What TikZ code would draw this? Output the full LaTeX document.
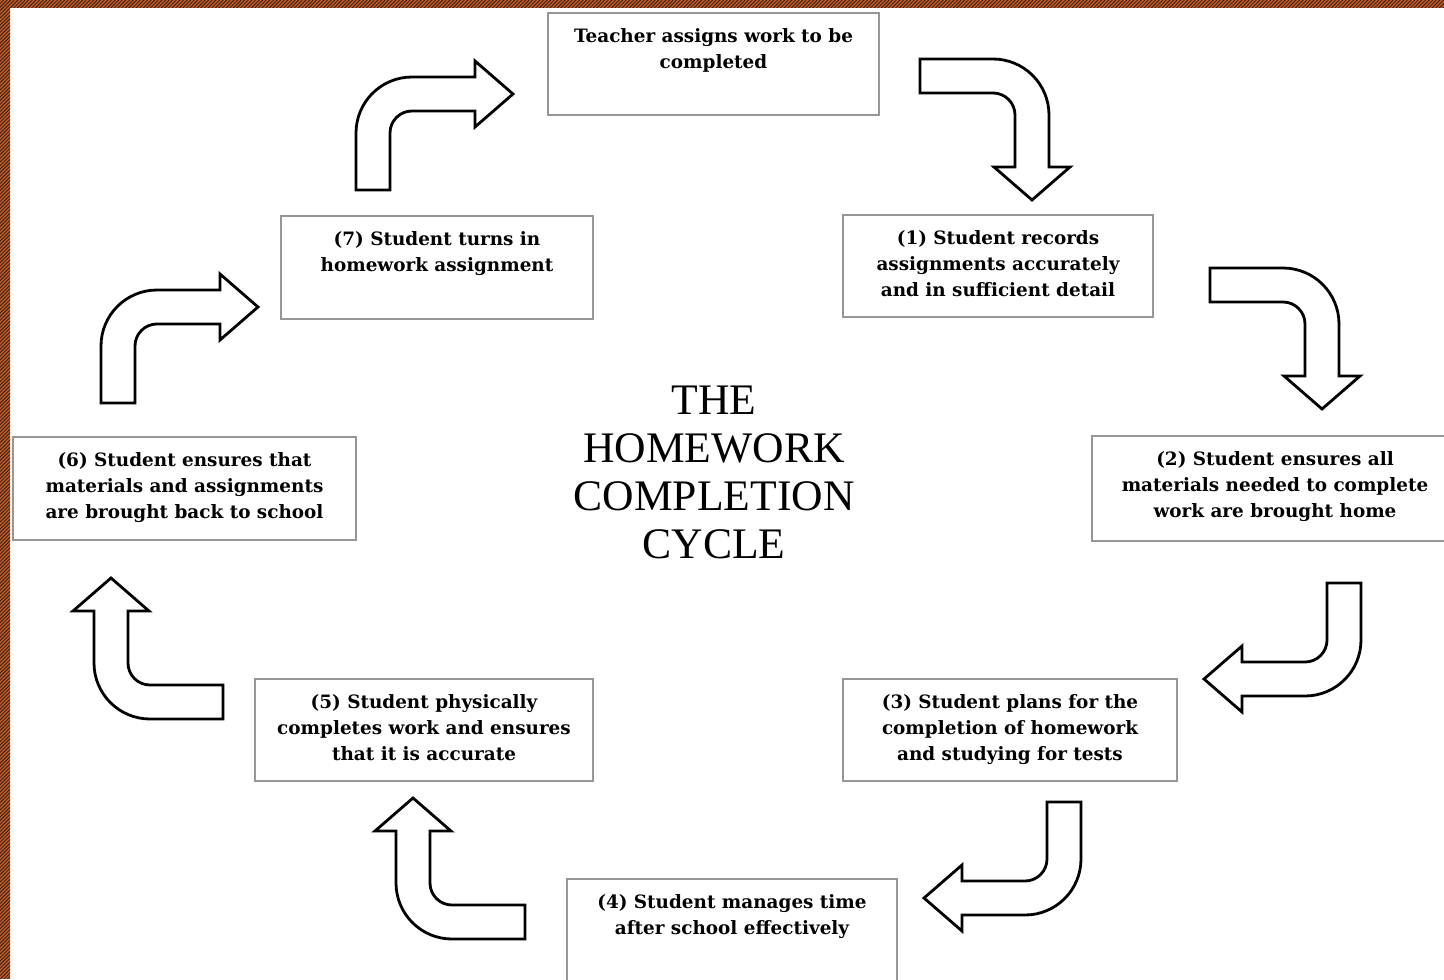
\documentclass[tikz,border=0pt]{standalone}
\usepackage{fontspec}
\setmainfont{Liberation Serif}
\newfontfamily\stagefont{DejaVu Serif}
\usetikzlibrary{positioning}
\definecolor{borderorange}{RGB}{200,84,30}
\definecolor{boxgray}{RGB}{150,150,150}
\tikzset{>=latex}

% block arrow that bends a quarter turn: position, rotation, shaft length, drop, head overhang, head length
\newcommand{\bentarrow}[6]{%
  \draw[blockarrow, shift={(#1)}, rotate=#2] (0,0) -- (0,34) -- ({#3-22},34)
    arc[start angle=90, end angle=0, radius=56] -- ({#3+34},-#4) -- ({#3+34+#5},-#4)
    -- ({#3+17},{-#4-#6}) -- ({#3-#5},-#4) -- (#3,-#4) -- (#3,-22)
    arc[start angle=0, end angle=90, radius=22] -- cycle;}

\begin{document}
\begin{tikzpicture}[x=0.5pt, y=0.5pt,
  stage/.style={draw=boxgray, line width=0.9pt, inner sep=0pt},
  stagelabel/.style={anchor=north, inner sep=0pt, yshift=-8pt, align=center, font=\stagefont\bfseries\fontsize{9.2}{13}\selectfont},
  blockarrow/.style={draw=black, line width=1.4pt, fill=white, line join=miter}]
	\useasboundingbox (0,0) rectangle (1444,-979);
	\clip (0,0) rectangle (1444,-979);

	% striped frame
	\begin{scope}
		\clip (0,0) rectangle (1444,-8) (0,0) rectangle (10,-979);
		\fill[borderorange] (0,0) rectangle (1444,-979);
		\foreach \s in {0,3.6,...,2450}
			\draw[black!85, line width=0.4pt] (\s,0) -- ++(-1000,-1000);
	\end{scope}

	% stages
	\node[stage, minimum width=165.5pt, minimum height=51pt, label={[stagelabel]90:{Teacher assigns work to be\\completed}}] (teacher) at (713.5,-64) {};
	\node[stage, minimum width=155pt, minimum height=51pt, label={[stagelabel]90:{(1) Student records\\assignments accurately\\and in sufficient detail}}] (s1) at (998,-266) {};
	\node[stage, minimum width=183pt, minimum height=52.5pt, label={[stagelabel]90:{(2) Student ensures all\\materials needed to complete\\work are brought home}}] (s2) at (1275,-488.5) {};
	\node[stage, minimum width=167pt, minimum height=51pt, label={[stagelabel]90:{(3) Student plans for the\\completion of homework\\and studying for tests}}] (s3) at (1010,-730) {};
	\node[stage, minimum width=165pt, minimum height=51pt, label={[stagelabel]90:{(4) Student manages time\\after school effectively}}] (s4) at (732,-930) {};
	\node[stage, minimum width=169pt, minimum height=51pt, label={[stagelabel]90:{(5) Student physically\\completes work and ensures\\that it is accurate}}] (s5) at (424,-730) {};
	\node[stage, minimum width=171.5pt, minimum height=51.5pt, label={[stagelabel]90:{(6) Student ensures that\\materials and assignments\\are brought back to school}}] (s6) at (184.5,-488.5) {};
	\node[stage, minimum width=156pt, minimum height=51.5pt, label={[stagelabel]90:{(7) Student turns in\\homework assignment}}] (s7) at (437,-267.5) {};

	\node[align=center, font=\fontsize{21.8}{24}\selectfont] (title) at (714,-472) {THE\\HOMEWORK\\COMPLETION\\CYCLE};

	% arrows round the cycle
	\bentarrow{920,-93}{0}{95}{74}{21}{33}
	\bentarrow{1210,-302}{0}{95}{74}{21}{33}
	\bentarrow{1327,-583}{-90}{79}{85}{16}{38}
	\bentarrow{1047,-802}{-90}{79}{85}{16}{38}
	\bentarrow{525,-905}{180}{95}{74}{21}{33}
	\bentarrow{223,-685}{180}{95}{74}{21}{33}
	\bentarrow{135,-403}{90}{79}{85}{16}{38}
	\bentarrow{390,-190}{90}{79}{85}{16}{38}
\end{tikzpicture}
\end{document}
